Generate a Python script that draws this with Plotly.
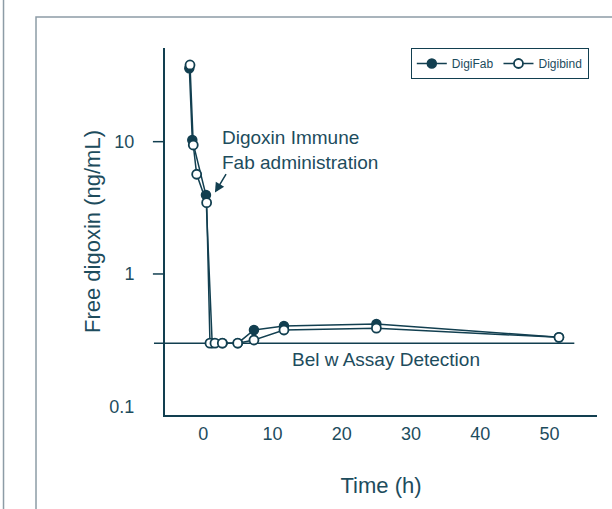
import math
import plotly.graph_objects as go

# ---- data ----
digifab_t = [-2.0, -1.57, 0.4, 1.3, 2.8, 5.0, 7.33, 11.66, 25.0, 51.35]
digifab_v = [35.9, 10.3, 3.95, 0.30, 0.30, 0.30, 0.377, 0.405, 0.419, 0.332]

digibind_t = [-1.9, -1.43, -0.94, 0.5, 0.98, 1.7, 2.76, 4.98, 7.33, 11.66, 25.0, 51.35]
digibind_v = [38.0, 9.44, 5.67, 3.46, 0.30, 0.30, 0.30, 0.30, 0.317, 0.377, 0.389, 0.332]

detection_limit = 0.3
x_ticks = [0, 10, 20, 30, 40, 50]
y_ticks = [0.1, 1, 10]
y_tick_labels = ["0.1", "1", "10"]

# point the administration arrow at (time, free digoxin)
arrow_t, arrow_v = 1.7, 4.12

TXT = "#1d4c5d"
LN = "#123f50"
FRAME = "#8d9ca6"
FONT = "Liberation Sans, Arial, Helvetica, sans-serif"

fig = go.Figure()
fig.add_trace(go.Scatter(
    x=digifab_t, y=digifab_v, mode="lines+markers", name="DigiFab",
    line=dict(color=LN, width=1.5),
    marker=dict(symbol="circle", size=9, color=LN, line=dict(color=LN, width=1.5)),
))
fig.add_trace(go.Scatter(
    x=digibind_t, y=digibind_v, mode="lines+markers", name="Digibind",
    line=dict(color=LN, width=1.5),
    marker=dict(symbol="circle", size=9, color="white", line=dict(color=LN, width=1.8)),
))

shapes = []
# detection limit line (extends a little beyond the y axis)
shapes.append(dict(type="line", xref="paper", yref="y", x0=-0.0255, x1=0.9475,
                   y0=detection_limit, y1=detection_limit,
                   line=dict(color=LN, width=1.5), layer="below"))
# y tick marks for 1 and 10 (the 0.1 label sits on the axis corner without a mark)
for v in y_ticks[1:]:
    shapes.append(dict(type="line", xref="paper", yref="y", x0=-0.028, x1=0,
                       y0=v, y1=v, line=dict(color=LN, width=1.5)))
# outer frame
shapes.append(dict(type="rect", xref="paper", yref="paper", x0=-0.2986, x1=1.3,
                   y0=-0.4, y1=1.0845, line=dict(color=FRAME, width=1.5), layer="below"))
shapes.append(dict(type="line", xref="paper", yref="paper", x0=-0.3738, x1=-0.3738,
                   y0=-0.4, y1=1.3, line=dict(color=FRAME, width=1.5)))

annotations = [
    dict(text="Digoxin Immune<br>Fab administration", xref="paper", yref="paper",
         x=0.127, y=0.7234, xanchor="left", yanchor="middle", align="left",
         showarrow=False, font=dict(size=19, color=TXT, family=FONT)),
    dict(text="", x=arrow_t, y=math.log10(arrow_v), xref="x", yref="y", ax=12, ay=-20,
         showarrow=True, arrowhead=2, arrowsize=1.3, arrowwidth=1.5, arrowcolor=LN),
    dict(text="Bel w Assay Detection", xref="paper", yref="paper",
         x=0.289, y=0.150, xanchor="left", yanchor="middle",
         showarrow=False, font=dict(size=19, color=TXT, family=FONT)),
]

fig.update_layout(
    width=612, height=509,
    margin=dict(l=165, r=15, t=48, b=94, autoexpand=False),
    paper_bgcolor="white", plot_bgcolor="white",
    font=dict(family=FONT, color=TXT, size=18),
    showlegend=True,
    legend=dict(orientation="h", x=0.569, y=1.0, xanchor="left", yanchor="top",
                bordercolor=LN, borderwidth=1, bgcolor="white",
                font=dict(size=12, color=TXT, family=FONT),
                itemwidth=30, tracegroupgap=0),
    shapes=shapes, annotations=annotations,
    xaxis=dict(range=[-5.51, 56.84], tickvals=x_ticks, ticks="", showgrid=False,
               zeroline=False, showline=True, linecolor=LN, linewidth=2,
               ticklabelstandoff=1, tickfont=dict(size=18, color=TXT),
               title=dict(text="Time (h)", font=dict(size=22, color=TXT), standoff=35)),
    yaxis=dict(type="log", range=[-1.066, 1.708], tickvals=y_ticks, ticktext=y_tick_labels,
               ticks="", showgrid=False, zeroline=False, showline=True,
               linecolor=LN, linewidth=2, ticklabelstandoff=25,
               tickfont=dict(size=18, color=TXT),
               title=dict(text="Free digoxin (ng/mL)", font=dict(size=22, color=TXT), standoff=3)),
)

fig.write_html("out.html", config={"displayModeBar": False},
               post_script="document.body.style.margin='0';document.body.style.overflow='hidden';")
